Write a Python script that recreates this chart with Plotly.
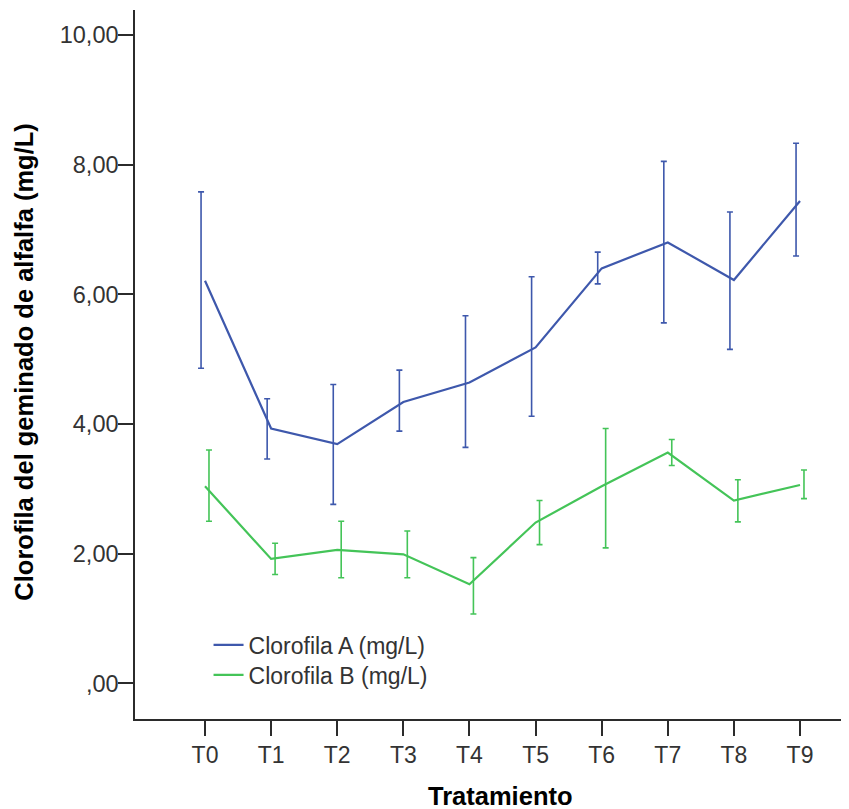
import plotly.graph_objects as go

# ---- data ----
categories = ["T0", "T1", "T2", "T3", "T4", "T5", "T6", "T7", "T8", "T9"]

clor_a = [6.21, 3.93, 3.69, 4.34, 4.64, 5.18, 6.40, 6.80, 6.22, 7.44]
clor_a_hi = [7.58, 4.39, 4.61, 4.83, 5.67, 6.27, 6.65, 8.05, 7.27, 8.33]
clor_a_lo = [4.86, 3.46, 2.76, 3.89, 3.64, 4.12, 6.16, 5.56, 5.15, 6.59]

clor_b = [3.04, 1.92, 2.06, 1.99, 1.53, 2.48, 3.04, 3.56, 2.82, 3.06]
clor_b_hi = [3.60, 2.16, 2.50, 2.35, 1.94, 2.82, 3.93, 3.76, 3.14, 3.29]
clor_b_lo = [2.50, 1.68, 1.63, 1.63, 1.07, 2.14, 2.09, 3.36, 2.49, 2.85]

y_tick_values = [0, 2, 4, 6, 8, 10]
y_tick_labels = [",00", "2,00", "4,00", "6,00", "8,00", "10,00"]

series_names = ["Clorofila A (mg/L)", "Clorofila B (mg/L)"]
x_title = "Tratamiento"
y_title = "Clorofila del geminado de alfalfa (mg/L)"

# ---- styling ----
BLUE = "#3e58ac"
GREEN = "#44c458"
AXIS = "#2b2b2b"
TXT = "#333333"
FONT = "Liberation Sans, Arial, sans-serif"

pos = list(range(len(categories)))
dodge = 0.06

fig = go.Figure()

series = [
    (series_names[0], clor_a, clor_a_hi, clor_a_lo, BLUE, -dodge, "legend"),
    (series_names[1], clor_b, clor_b_hi, clor_b_lo, GREEN, dodge, "legend2"),
]

for name, vals, hi, lo, col, off, leg in series:
    # error bars (dodged slightly, as in the original)
    fig.add_trace(go.Scatter(
        x=[p + off for p in pos], y=vals, mode="markers",
        marker=dict(size=1, color="rgba(0,0,0,0)"),
        error_y=dict(type="data", symmetric=False,
                     array=[h - v for h, v in zip(hi, vals)],
                     arrayminus=[v - l for v, l in zip(vals, lo)],
                     color=col, thickness=1.6, width=3),
        showlegend=False, hoverinfo="skip",
    ))
    # mean line
    fig.add_trace(go.Scatter(
        x=pos, y=vals, mode="lines", name=name, legend=leg,
        line=dict(color=col, width=2.2),
    ))

legend_style = dict(xanchor="left", yanchor="middle",
                    bgcolor="rgba(0,0,0,0)", font=dict(size=23, color=TXT),
                    itemwidth=30)

# page body has an 8px margin -> figure is 841x801 placed at (8,8)
fig.update_layout(
    width=841, height=801,
    margin=dict(l=127, r=0, t=2, b=90),
    plot_bgcolor="white", paper_bgcolor="white",
    font=dict(family=FONT, size=22, color=TXT),
    showlegend=True,
    legend=dict(x=0.103, y=0.1044, **legend_style),
    legend2=dict(x=0.103, y=0.0621, **legend_style),
    xaxis=dict(
        range=[-1.059, 9.741],
        tickmode="array", tickvals=pos, ticktext=categories,
        showline=True, linecolor=AXIS, linewidth=1.5,
        ticks="outside", ticklen=15, tickwidth=1.5, tickcolor=AXIS,
        tickfont=dict(size=23, color=TXT),
        showgrid=False, zeroline=False,
    ),
    yaxis=dict(
        range=[-0.549, 10.384],
        tickmode="array", tickvals=y_tick_values, ticktext=y_tick_labels,
        showline=True, linecolor=AXIS, linewidth=1.5,
        ticks="outside", ticklen=15, tickwidth=1.5, tickcolor=AXIS,
        tickfont=dict(size=23.5, color=TXT), ticklabelstandoff=-5,
        showgrid=False, zeroline=False,
    ),
    annotations=[
        dict(text="<b>%s</b>" % y_title, xref="paper", yref="paper",
             x=-0.1555, y=0.504, xanchor="center", yanchor="middle",
             textangle=-90, showarrow=False,
             font=dict(size=25.5, color="black", family=FONT)),
        dict(text="<b>%s</b>" % x_title, xref="paper", yref="paper",
             x=0.512, y=-0.108, xanchor="center", yanchor="middle",
             showarrow=False,
             font=dict(size=25.5, color="black", family=FONT)),
    ],
)

fig.write_html("out.html")
